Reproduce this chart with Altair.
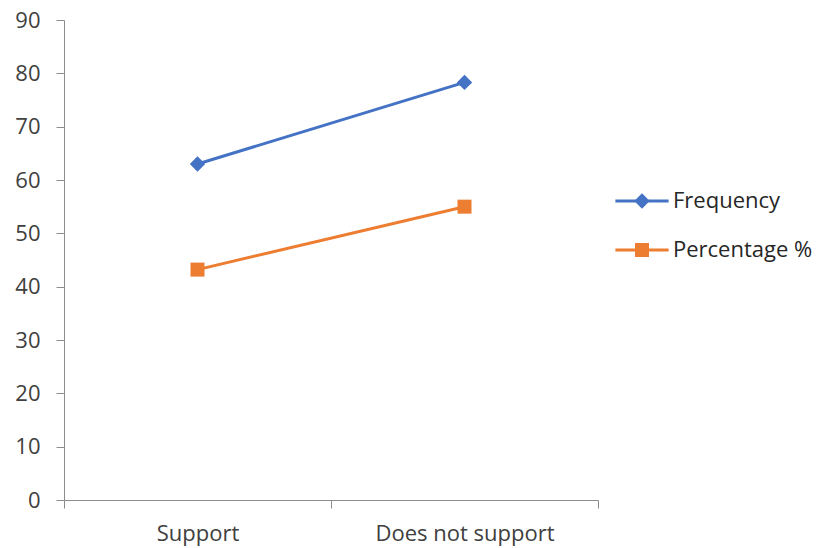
import altair as alt
import pandas as pd

categories = ["Support", "Does not support"]
series_names = ["Frequency", "Percentage %"]
frequency = [63, 78.3]
percentage = [43.2, 55]
colors = ["#4472C4", "#ED7D31"]
y_ticks = [0, 10, 20, 30, 40, 50, 60, 70, 80, 90]

rows = []
for c, v in zip(categories, frequency):
    rows.append({"category": c, "series": series_names[0], "value": v})
for c, v in zip(categories, percentage):
    rows.append({"category": c, "series": series_names[1], "value": v})
df = pd.DataFrame(rows)
df["series_line"] = df["series"]

FONT = "Open Sans"
FS = 22
DIAMOND = "M0,-1.1L1.1,0L0,1.1L-1.1,0Z"
SQUARE = "M-1,-1H1V1H-1Z"
LINE_SYM = "M-3.8,0H3.8"

x = alt.X("category:N", sort=categories,
          scale=alt.Scale(type="band", paddingInner=0, paddingOuter=0),
          axis=alt.Axis(title=None, labelAngle=0, tickBand="extent",
                        domainColor="#8c8c8c", tickColor="#8c8c8c",
                        tickSize=8, labelPadding=15, labelFontSize=FS,
                        labelFont=FONT, labelColor="#404040", grid=False))
y = alt.Y("value:Q", scale=alt.Scale(domain=[0, 90], nice=False),
          axis=alt.Axis(title=None, values=y_ticks, grid=False,
                        domainColor="#8c8c8c", tickColor="#8c8c8c",
                        tickSize=8, labelPadding=16, labelFontSize=FS,
                        labelFont=FONT, labelColor="#404040"))

LEG_X = 567
LEG_Y = 170

leg_common = dict(title=None, orient="none", legendX=LEG_X, legendY=LEG_Y,
                  symbolSize=196, labelFontSize=FS, labelFont=FONT,
                  labelOffset=20, rowPadding=27, labelLimit=300)

lines = alt.Chart(df).mark_line(strokeWidth=3).encode(
    x=x, y=y,
    color=alt.Color("series_line:N", sort=series_names,
                    scale=alt.Scale(range=colors),
                    legend=alt.Legend(symbolType=LINE_SYM, symbolStrokeWidth=3,
                                      labelOpacity=0, **leg_common)),
)

points = alt.Chart(df).mark_point(filled=True, size=196, opacity=1).encode(
    x=x, y=y,
    fill=alt.Fill("series:N", sort=series_names,
                  scale=alt.Scale(domain=series_names, range=colors),
                  legend=alt.Legend(symbolOpacity=1, labelColor="#262626",
                                    **leg_common)),
    shape=alt.Shape("series:N", sort=series_names,
                    scale=alt.Scale(domain=series_names, range=[DIAMOND, SQUARE]),
                    legend=alt.Legend(symbolOpacity=1, labelColor="#262626",
                                      **leg_common)),
)

chart = alt.layer(lines, points).properties(
    width=534, height=480,
    autosize=alt.AutoSizeParams(type="none"),
    padding={"left": 56, "top": 12, "right": 216, "bottom": 50},
).configure_view(stroke=None)

chart.save("out.html", embed_options={"renderer": "svg", "actions": False})
